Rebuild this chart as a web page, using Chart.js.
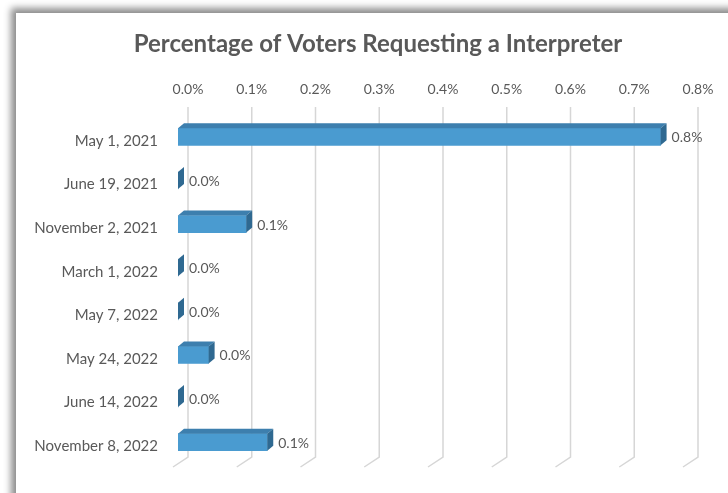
<!DOCTYPE html>
<html>
<head>
<meta charset="utf-8">
<script src="https://cdn.jsdelivr.net/npm/chart.js@4.4.0/dist/chart.umd.min.js"></script>
<style>
  html, body { margin: 0; padding: 0; background: #fff; overflow: hidden; }
  #frame {
    position: absolute; left: 16px; top: 13px; width: 800px; height: 600px;
    background: #fff; box-shadow: -4px -4px 7px 1px rgba(0, 0, 0, 0.45);
  }
  #chart { position: absolute; left: 0; top: 0; }
</style>
</head>
<body>
<div id="frame"></div>
<canvas id="chart" width="728" height="493"></canvas>
<script>
// data (percent units)
const categories = ['May 1, 2021', 'June 19, 2021', 'November 2, 2021', 'March 1, 2022',
  'May 7, 2022', 'May 24, 2022', 'June 14, 2022', 'November 8, 2022'];
const percentValues = [0.757, 0, 0.107, 0, 0, 0.048, 0, 0.140];
const tickLabels = ['0.0%', '0.1%', '0.2%', '0.3%', '0.4%', '0.5%', '0.6%', '0.7%', '0.8%'];

const textColor = '#595959';
const fontFamily = 'Lato, "Open Sans", sans-serif';
const depthX = 6, depthY = -5; // fake 3d depth of the bars
// plot runs to the canvas edge (so the title centres like the original),
// the last tick 0.8% sits 40px before it
const axisMax = 0.8 * 550 / 510;

// back wall gridlines + floor stubs, then 3d faces and labels on top of the bars
const bar3d = {
  id: 'bar3d',
  beforeDatasetsDraw(chart) {
    const ctx = chart.ctx;
    const xs = chart.scales.x;
    const area = chart.chartArea;
    ctx.save();
    ctx.strokeStyle = '#d6d6d6';
    ctx.lineWidth = 1.5;
    xs.ticks.forEach(t => {
      const px = xs.getPixelForValue(t.value) + 10;
      const top = area.top - 8, bot = area.bottom - 7;
      ctx.beginPath();
      ctx.moveTo(px, top);
      ctx.lineTo(px, bot);
      ctx.lineTo(px - 15, bot + 10);
      ctx.stroke();
    });
    ctx.restore();
  },
  afterDatasetsDraw(chart) {
    const ctx = chart.ctx;
    const meta = chart.getDatasetMeta(0);
    ctx.save();
    meta.data.forEach((bar, i) => {
      const p = bar.getProps(['x', 'y', 'base', 'height'], true);
      const top = p.y - p.height / 2, bot = p.y + p.height / 2;
      // top face
      if (p.x > p.base) {
        ctx.fillStyle = '#3d7fae';
        ctx.beginPath();
        ctx.moveTo(p.base, top);
        ctx.lineTo(p.x, top);
        ctx.lineTo(p.x + depthX, top + depthY);
        ctx.lineTo(p.base + depthX, top + depthY);
        ctx.closePath();
        ctx.fill();
      }
      // side face
      ctx.fillStyle = '#2f6991';
      ctx.beginPath();
      ctx.moveTo(p.x, top);
      ctx.lineTo(p.x + depthX, top + depthY);
      ctx.lineTo(p.x + depthX, bot + depthY);
      ctx.lineTo(p.x, bot);
      ctx.closePath();
      ctx.fill();
      // data label
      ctx.fillStyle = textColor;
      ctx.font = '14px ' + fontFamily;
      ctx.textAlign = 'left';
      ctx.textBaseline = 'middle';
      ctx.fillText(percentValues[i].toFixed(1) + '%', p.x + depthX + 5, p.y + 1);
    });
    ctx.restore();
  }
};

new Chart(document.getElementById('chart'), {
  type: 'bar',
  data: {
    labels: categories,
    datasets: [{
      data: percentValues,
      backgroundColor: '#4a9bd0',
      borderWidth: 0,
      barThickness: 17
    }]
  },
  options: {
    indexAxis: 'y',
    responsive: false,
    animation: false,
    layout: { padding: { left: 28, top: 32, right: 0, bottom: 26 } },
    plugins: {
      legend: { display: false },
      tooltip: { enabled: false },
      title: {
        display: true,
        text: 'Percentage of Voters Requesting a Interpreter',
        color: textColor,
        font: { family: fontFamily, size: 24, weight: 'bold', lineHeight: 1 },
        padding: 0
      }
    },
    scales: {
      x: {
        position: 'top',
        min: 0,
        max: axisMax,
        grid: { display: false, drawTicks: false },
        border: { display: false },
        ticks: {
          stepSize: 0.1,
          includeBounds: false,
          padding: 17,
          labelOffset: 10,
          color: textColor,
          font: { family: fontFamily, size: 14 },
          callback: (v, i) => tickLabels[i]
        },
        afterBuildTicks(scale) {
          scale.ticks = scale.ticks.filter(t => t.value <= 0.8 + 1e-9);
        },
        afterFit(scale) { scale.height = 59; }
      },
      y: {
        grid: { display: false, drawTicks: false },
        border: { display: false },
        ticks: {
          padding: 20,
          labelOffset: 4,
          color: textColor,
          font: { family: fontFamily, size: 15 }
        },
        afterFit(scale) { scale.width = 150; }
      }
    }
  },
  plugins: [bar3d]
});
</script>
</body>
</html>
